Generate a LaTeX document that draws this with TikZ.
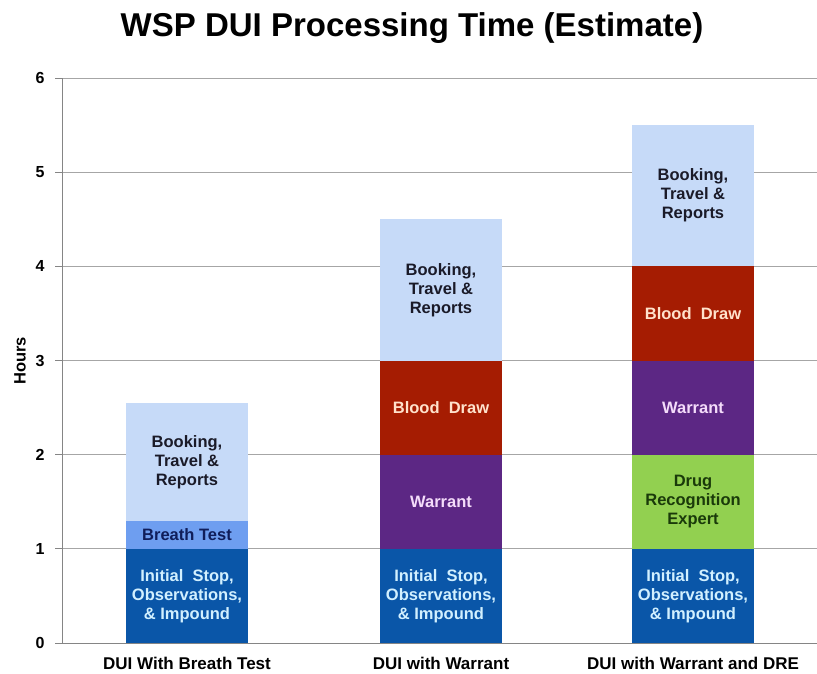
\documentclass[tikz,border=0pt]{standalone}
\usepackage{fontspec}
\setmainfont{Liberation Sans}
\definecolor{cinit}{HTML}{0A56A8}
\definecolor{cbreath}{HTML}{6E9EF0}
\definecolor{cbook}{HTML}{C6DAF8}
\definecolor{cblood}{HTML}{A51C02}
\definecolor{cwarr}{HTML}{5C2784}
\definecolor{cdre}{HTML}{92D050}
\definecolor{tinit}{HTML}{D2F0FF}
\definecolor{tbreath}{HTML}{101E5A}
\definecolor{tbook}{HTML}{1A1A28}
\definecolor{tblood}{HTML}{FFE2CC}
\definecolor{twarr}{HTML}{F4DCFA}
\definecolor{tdre}{HTML}{1A3A0A}
\definecolor{gridc}{HTML}{A6A6A6}
\begin{document}
\begin{tikzpicture}[x=1pt,y=-1pt,
  seg/.style={anchor=south west,minimum width=122pt,inner sep=0pt,outer sep=0pt,
    align=center,font=\fontsize{16.5}{19}\bfseries\selectfont},
  gridline/.style={draw=gridc,line width=0.9pt},
  axisline/.style={draw=gridc!80!black,line width=0.9pt},
  ticklab/.style={anchor=east,font=\fontsize{16}{18}\bfseries\selectfont},
  catlab/.style={font=\fontsize{17}{20}\bfseries\selectfont}]
\useasboundingbox (0,0) rectangle (817,673);
\fill[white] (0,0) rectangle (817,673);
% title
\node[font=\fontsize{33}{38}\bfseries\selectfont] (title) at (412,28) {WSP DUI Processing Time (Estimate)};
% grid
\foreach \v/\p in {1/548.83,2/454.66,3/360.5,4/266.33,5/172.17,6/78} {
  \draw[gridline] (62,\p) -- (817,\p);
  \draw[axisline] (55,\p) -- (62,\p);
}
\draw[axisline] (55,643) -- (62,643);
\foreach \v/\p in {0/643,1/548.83,2/454.66,3/360.5,4/266.33,5/172.17,6/78}
  \node[ticklab] (t\v) at (48,\p) {\v};
\node[rotate=90,font=\fontsize{16.5}{18}\bfseries\selectfont] (ylab) at (20,361) {Hours};
% bar 1
\node[seg,fill=cinit,text=tinit,minimum height=94.17pt] (b1a) at (126,643) {Initial\ \ Stop,\\Observations,\\\& Impound};
\node[seg,fill=cbreath,text=tbreath,minimum height=28.25pt] (b1b) at (126,548.83) {Breath Test};
\node[seg,fill=cbook,text=tbook,minimum height=117.7pt] (b1c) at (126,520.58) {Booking,\\Travel \&\\Reports};
% bar 2
\node[seg,fill=cinit,text=tinit,minimum height=94.17pt] (b2a) at (380,643) {Initial\ \ Stop,\\Observations,\\\& Impound};
\node[seg,fill=cwarr,text=twarr,minimum height=94.17pt] (b2b) at (380,548.83) {Warrant};
\node[seg,fill=cblood,text=tblood,minimum height=94.17pt] (b2c) at (380,454.66) {Blood\ \ Draw};
\node[seg,fill=cbook,text=tbook,minimum height=141.25pt] (b2d) at (380,360.5) {Booking,\\Travel \&\\Reports};
% bar 3
\node[seg,fill=cinit,text=tinit,minimum height=94.17pt] (b3a) at (632,643) {Initial\ \ Stop,\\Observations,\\\& Impound};
\node[seg,fill=cdre,text=tdre,minimum height=94.17pt] (b3b) at (632,548.83) {Drug\\Recognition\\Expert};
\node[seg,fill=cwarr,text=twarr,minimum height=94.17pt] (b3c) at (632,454.66) {Warrant};
\node[seg,fill=cblood,text=tblood,minimum height=94.17pt] (b3d) at (632,360.5) {Blood\ \ Draw};
\node[seg,fill=cbook,text=tbook,minimum height=141.25pt] (b3e) at (632,266.33) {Booking,\\Travel \&\\Reports};
% axes
\draw[axisline] (62,78) -- (62,643);
\draw[axisline] (62,643) -- (817,643);
% category labels
\node[catlab] (c1) at (187,663) {DUI With Breath Test};
\node[catlab] (c2) at (441,663) {DUI with Warrant};
\node[catlab] (c3) at (693,663) {DUI with Warrant and DRE};
\end{tikzpicture}
\end{document}
